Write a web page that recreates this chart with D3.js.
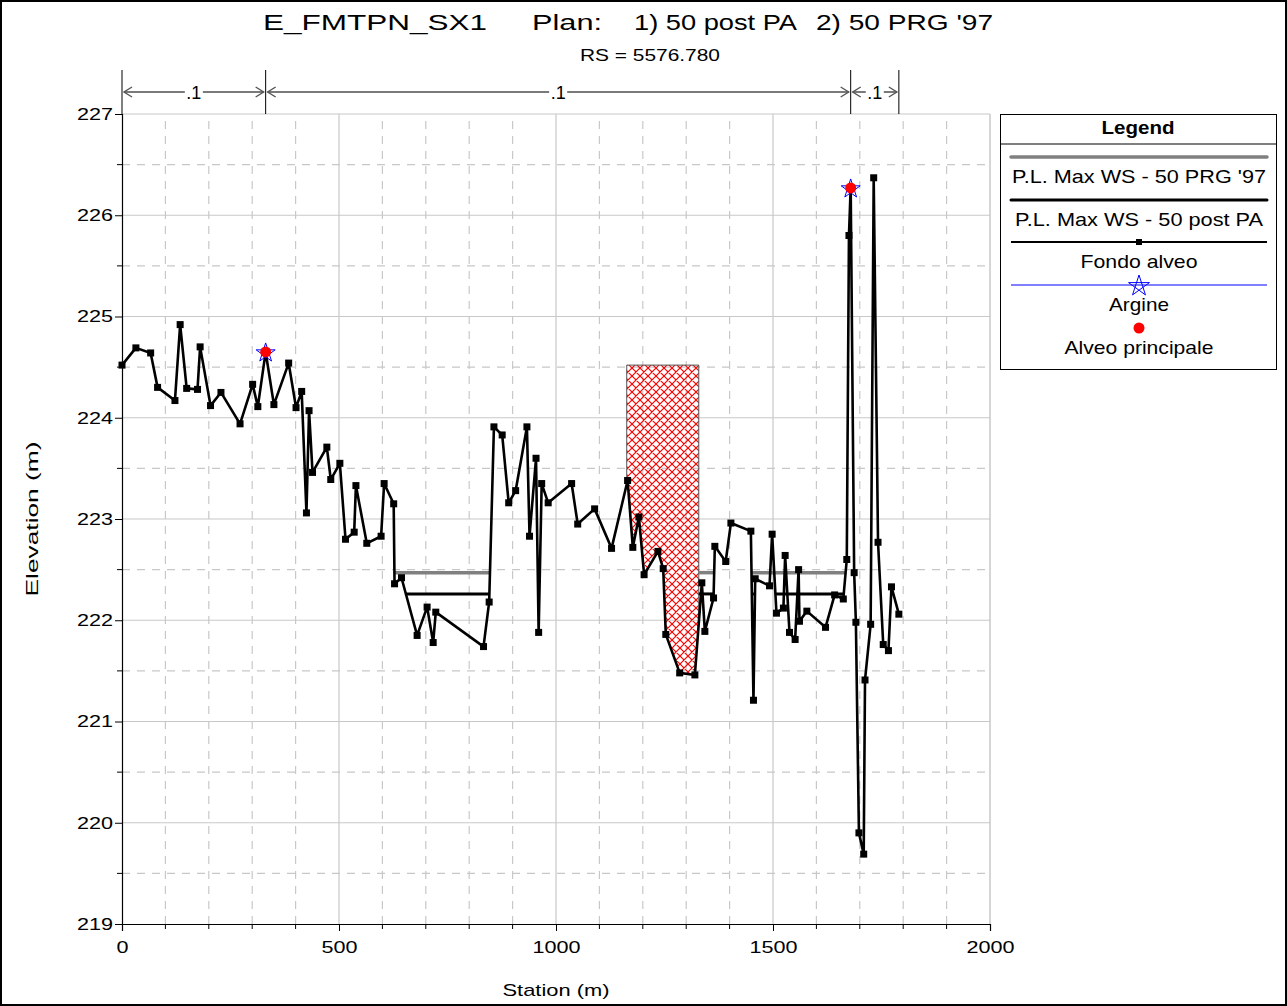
<!DOCTYPE html>
<html>
<head>
<meta charset="utf-8">
<script src="https://cdn.jsdelivr.net/npm/d3@7"></script>
<style>
  body { margin: 0; background: #fff; }
  svg { display: block; font-family: "Liberation Sans", Arial, sans-serif; }
</style>
</head>
<body>
<svg id="chart" width="1287" height="1006"></svg>
<script>
// -------- DATA --------
const groundStations = [0, 32, 66, 82, 122, 134, 149, 174, 180, 204, 228, 272, 301, 313, 331, 350, 384, 401, 414, 425,
  431, 439, 472, 481, 502, 515, 535, 539, 564, 597, 604, 626, 628, 644, 680, 703, 717, 723, 833, 846,
  857, 876, 891, 907, 933, 939, 954, 960, 967, 982, 1036, 1050, 1089, 1128, 1165, 1177, 1191, 1203, 1235, 1247,
  1253, 1285, 1320, 1336, 1343, 1363, 1366, 1391, 1403, 1449, 1455, 1459, 1492, 1498, 1508, 1524, 1528, 1538, 1551, 1559,
  1561, 1578, 1621, 1642, 1662, 1670, 1675, 1679, 1687, 1691, 1698, 1709, 1712, 1725, 1732, 1742, 1754, 1766, 1773, 1790];
const groundElev = [224.52, 224.69, 224.64, 224.30, 224.17, 224.92, 224.29, 224.28, 224.70, 224.12, 224.25, 223.94, 224.33, 224.11, 224.65, 224.13, 224.54, 224.10, 224.26, 223.06,
  224.07, 223.46, 223.71, 223.39, 223.55, 222.80, 222.87, 223.33, 222.76, 222.83, 223.35, 223.15, 222.36, 222.42, 221.85, 222.13, 221.78, 222.08, 221.74, 222.18,
  223.91, 223.83, 223.16, 223.28, 223.91, 222.83, 223.60, 221.88, 223.35, 223.16, 223.35, 222.95, 223.10, 222.71, 223.38, 222.72, 223.02, 222.45, 222.68, 222.51,
  221.86, 221.48, 221.46, 222.37, 221.89, 222.22, 222.73, 222.58, 222.96, 222.88, 221.21, 222.41, 222.34, 222.85, 222.07, 222.12, 222.64, 221.88, 221.81, 222.50,
  221.99, 222.09, 221.93, 222.25, 222.21, 222.60, 225.80, 226.27, 222.47, 221.98, 219.90, 219.69, 221.41, 221.96, 226.37, 222.77, 221.76, 221.70, 222.33, 222.06];

// bank stations (Alveo principale) and levees (Argine)
const bankStations = [331, 1679];
const bankElev = [224.65, 226.27];

// water surfaces
const wsPrgElev = 222.47;
const wsPrgSegs = [[628, 848], [958, 963], [1329, 1366], [1450, 1667]];
const wsPostElev = 222.26;
const wsPostSegs = [[652, 846], [959, 961], [1329, 1363], [1453, 1456], [1506, 1662]];

// blocked obstruction
const blockStations = [1163, 1329];
const blockTop = 224.52;

// Manning's n breaks
const nBreaks = [0, 331, 1679, 1790];
const nValues = [".1", ".1", ".1"];

const xTicksMajor = [0, 500, 1000, 1500, 2000];
const yTicksMajor = [219, 220, 221, 222, 223, 224, 225, 226, 227];

const titleParts = ["E_FMTPN_SX1", "Plan:", "1) 50 post PA", "2) 50 PRG '97"];
const legendItems = ["P.L. Max WS - 50 PRG '97", "P.L. Max WS - 50 post PA", "Fondo alveo", "Argine", "Alveo principale"];

// -------- SETUP --------
const svg = d3.select("#chart");
const x = d3.scaleLinear().domain([0, 2000]).range([122, 990]);
const y = d3.scaleLinear().domain([219, 227]).range([924, 114]);
const gridColor = "#c8c8c8";

// text helper, stretched to the measured width of the original
function wideText(parent, tx, ty, str, size, len, anchor) {
  return parent.append("text").attr("x", tx).attr("y", ty).attr("font-size", size)
    .attr("text-anchor", anchor || "start")
    .attr("textLength", len).attr("lengthAdjust", "spacingAndGlyphs").text(str);
}

// outer frame
svg.append("rect").attr("x", 1).attr("y", 1).attr("width", 1285).attr("height", 1004)
  .attr("fill", "none").attr("stroke", "#000").attr("stroke-width", 2);

// titles
const titleX = [263, 532, 634, 816];
const titleW = [224, 70, 163, 177];
titleParts.forEach((t, i) => wideText(svg, titleX[i], 30, t, 22, titleW[i]));
wideText(svg, 650, 61, "RS = 5576.780", 17, 140, "middle");

// -------- GRID --------
const grid = svg.append("g");
d3.range(100, 2000, 100).forEach(s => {
  const major = s % 500 === 0;
  grid.append("line").attr("x1", x(s)).attr("x2", x(s)).attr("y1", y(219)).attr("y2", y(227))
    .attr("stroke", gridColor).attr("stroke-width", 1.2)
    .attr("stroke-dasharray", major ? null : "8,7");
});
grid.append("line").attr("x1", x(2000)).attr("x2", x(2000)).attr("y1", y(219)).attr("y2", y(227))
  .attr("stroke", gridColor).attr("stroke-width", 1.5);
d3.range(219.5, 227.01, 0.5).forEach(e => {
  const major = Math.abs(e - Math.round(e)) < 1e-6;
  grid.append("line").attr("x1", x(0)).attr("x2", x(2000)).attr("y1", y(e)).attr("y2", y(e))
    .attr("stroke", gridColor).attr("stroke-width", 1.2)
    .attr("stroke-dasharray", major ? null : "8,7");
});

// -------- AXES --------
const xAxis = d3.axisBottom(x).tickValues(xTicksMajor).tickSize(7).tickFormat(d3.format("d"));
const gx = svg.append("g").attr("transform", `translate(0,${y(219)})`).call(xAxis);
gx.selectAll("text").attr("font-size", 17).attr("dy", "1.1em").attr("fill", "#000")
  .attr("transform", "scale(1.27,1)");
gx.selectAll(".tick").each(function(d) {
  d3.select(this).select("text").attr("x", 0);
});
gx.select(".domain").attr("stroke", "#000").attr("stroke-width", 1.2);
gx.append("g").selectAll("line").data(d3.range(100, 2000, 100).filter(s => s % 500 !== 0)).enter()
  .append("line").attr("x1", d => x(d)).attr("x2", d => x(d)).attr("y1", 0).attr("y2", 5).attr("stroke", "#000");

const yAxis = d3.axisLeft(y).tickValues(yTicksMajor).tickSize(7).tickFormat(d3.format("d"));
const gy = svg.append("g").attr("transform", `translate(${x(0)},0)`).call(yAxis);
gy.selectAll("text").attr("font-size", 17).attr("fill", "#000")
  .attr("x", -7).attr("transform", "scale(1.27,1)");
gy.select(".domain").attr("stroke", "#000").attr("stroke-width", 1.2);
gy.append("g").selectAll("line").data(d3.range(219.5, 227, 1)).enter()
  .append("line").attr("x1", -5).attr("x2", 0).attr("y1", d => y(d)).attr("y2", d => y(d)).attr("stroke", "#000");

wideText(svg, x(1000), 996, "Station (m)", 17, 107, "middle");
wideText(svg.append("g").attr("transform", `translate(38,${y(223)}) rotate(-90)`),
  0, 0, "Elevation (m)", 17, 155, "middle");

// -------- MANNING'S N --------
const nG = svg.append("g");
nBreaks.forEach(s => {
  nG.append("line").attr("x1", x(s)).attr("x2", x(s)).attr("y1", 70).attr("y2", y(227))
    .attr("stroke", "#000").attr("stroke-width", 1);
});
function chevron(px, dir) {
  const a = 8 * dir;
  nG.append("path").attr("d", `M${px + a},${92 - 5}L${px},92L${px + a},${92 + 5}`)
    .attr("fill", "none").attr("stroke", "#555").attr("stroke-width", 1.4);
}
nValues.forEach((v, i) => {
  const x0 = x(nBreaks[i]) + 2, x1 = x(nBreaks[i + 1]) - 2, xm = (x0 + x1) / 2;
  const half = 9;
  nG.append("line").attr("x1", x0).attr("x2", xm - half).attr("y1", 92).attr("y2", 92)
    .attr("stroke", "#7a7a7a").attr("stroke-width", 2);
  nG.append("line").attr("x1", xm + half).attr("x2", x1).attr("y1", 92).attr("y2", 92)
    .attr("stroke", "#7a7a7a").attr("stroke-width", 2);
  chevron(x0, 1);
  chevron(x1, -1);
  nG.append("text").attr("x", xm).attr("y", 99).attr("text-anchor", "middle")
    .attr("font-size", 18).text(v);
});

// -------- BLOCKED OBSTRUCTION --------
const defs = svg.append("defs");
const pat = defs.append("pattern").attr("id", "hatch").attr("patternUnits", "userSpaceOnUse")
  .attr("width", 8).attr("height", 8);
pat.append("path").attr("d", "M0,0L8,8M8,0L0,8M-1,7L1,9M7,-1L9,1M-1,1L1,-1M7,9L9,7")
  .attr("stroke", "#ff0000").attr("stroke-width", 1.2);

const ground = groundStations.map((s, i) => [s, groundElev[i]]);
function groundAt(s) {
  for (let i = 0; i < ground.length - 1; i++) {
    const [s0, e0] = ground[i], [s1, e1] = ground[i + 1];
    if (s >= s0 && s <= s1) return e0 + (e1 - e0) * (s - s0) / (s1 - s0);
  }
  return ground[ground.length - 1][1];
}
const blockPts = [[blockStations[0], blockTop], [blockStations[1], blockTop], [blockStations[1], groundAt(blockStations[1])]];
ground.filter(d => d[0] > blockStations[0] && d[0] < blockStations[1]).reverse().forEach(d => blockPts.push(d));
blockPts.push([blockStations[0], groundAt(blockStations[0])]);
const pline = d3.line().x(d => x(d[0])).y(d => y(d[1]));
svg.append("path").attr("d", pline(blockPts) + "Z")
  .attr("fill", "url(#hatch)").attr("stroke", "none");
svg.append("path").attr("d", pline([[blockStations[0], groundAt(blockStations[0])]].concat(blockPts.slice(0, 3))))
  .attr("fill", "none").attr("stroke", "#555").attr("stroke-width", 1);

// -------- WATER SURFACES --------
wsPrgSegs.forEach(seg => {
  svg.append("line").attr("x1", x(seg[0])).attr("x2", x(seg[1])).attr("y1", y(wsPrgElev)).attr("y2", y(wsPrgElev))
    .attr("stroke", "#808080").attr("stroke-width", 3.5);
});
wsPostSegs.forEach(seg => {
  svg.append("line").attr("x1", x(seg[0])).attr("x2", x(seg[1])).attr("y1", y(wsPostElev)).attr("y2", y(wsPostElev))
    .attr("stroke", "#000").attr("stroke-width", 3);
});

// -------- GROUND --------
svg.append("path").datum(ground)
  .attr("d", pline)
  .attr("fill", "none").attr("stroke", "#000").attr("stroke-width", 2.6).attr("stroke-linejoin", "round");
svg.append("g").selectAll("rect").data(ground).enter().append("rect")
  .attr("x", d => x(d[0]) - 3.5).attr("y", d => y(d[1]) - 3.5).attr("width", 7).attr("height", 7)
  .attr("fill", "#000");

// -------- BANKS --------
function pentagram(cx, cy, r) {
  const pts = d3.range(5).map(k => {
    const a = -Math.PI / 2 + k * 2 * Math.PI / 5;
    return [cx + r * Math.cos(a), cy + r * Math.sin(a)];
  });
  const order = [0, 2, 4, 1, 3];
  return "M" + order.map(k => pts[k].join(",")).join("L") + "Z";
}
bankStations.forEach((s, i) => {
  svg.append("path").attr("d", pentagram(x(s), y(bankElev[i]) + 1, 10))
    .attr("fill", "none").attr("stroke", "#0000ff").attr("stroke-width", 1);
  svg.append("circle").attr("cx", x(s)).attr("cy", y(bankElev[i])).attr("r", 5.5).attr("fill", "#ff0000");
});

// -------- LEGEND --------
const lg = svg.append("g");
lg.append("rect").attr("x", 1000.5).attr("y", 114.5).attr("width", 276).attr("height", 255)
  .attr("fill", "#fff").attr("stroke", "#000").attr("stroke-width", 1);
lg.append("line").attr("x1", 1000.5).attr("x2", 1276.5).attr("y1", 144).attr("y2", 144)
  .attr("stroke", "#000").attr("stroke-width", 1);
wideText(lg, 1138, 134, "Legend", 19, 73, "middle").attr("font-weight", "bold");
const lx0 = 1011, lx1 = 1267, lxm = 1139;
const rowY = [157, 200, 242, 285, 328];
const textY = [183, 226, 268, 311, 354];
const textW = [254, 248, 117, 60, 149];
lg.append("line").attr("x1", lx0).attr("x2", lx1).attr("y1", rowY[0]).attr("y2", rowY[0])
  .attr("stroke", "#808080").attr("stroke-width", 3.5).attr("stroke-linecap", "round");
lg.append("line").attr("x1", lx0).attr("x2", lx1).attr("y1", rowY[1]).attr("y2", rowY[1])
  .attr("stroke", "#000").attr("stroke-width", 3).attr("stroke-linecap", "round");
lg.append("line").attr("x1", lx0).attr("x2", lx1).attr("y1", rowY[2]).attr("y2", rowY[2])
  .attr("stroke", "#000").attr("stroke-width", 2);
lg.append("rect").attr("x", lxm - 3).attr("y", rowY[2] - 3).attr("width", 6).attr("height", 6).attr("fill", "#000");
lg.append("line").attr("x1", lx0).attr("x2", lx1).attr("y1", rowY[3]).attr("y2", rowY[3])
  .attr("stroke", "#0000ff").attr("stroke-width", 1);
lg.append("path").attr("d", pentagram(lxm, rowY[3] + 1, 11))
  .attr("fill", "none").attr("stroke", "#0000ff").attr("stroke-width", 1);
lg.append("circle").attr("cx", lxm).attr("cy", rowY[4]).attr("r", 5.5).attr("fill", "#ff0000");
legendItems.forEach((t, i) => wideText(lg, lxm, textY[i], t, 19, textW[i], "middle"));
</script>
</body>
</html>
